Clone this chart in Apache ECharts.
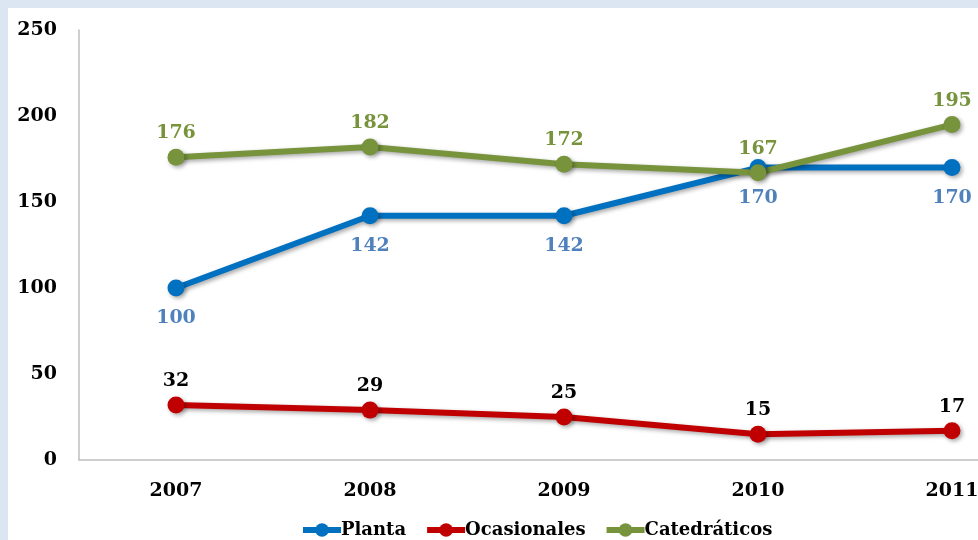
<!DOCTYPE html>
<html>
<head>
<meta charset="utf-8">
<script src="https://cdn.jsdelivr.net/npm/echarts@6/dist/echarts.min.js"></script>
<style>
    html, body { margin: 0; padding: 0; background: #dce6f2; width: 978px; height: 540px; overflow: hidden; }
    #chart { position: absolute; left: 8px; top: 8px; width: 1041px; height: 532px; background: #fff; }
</style>
</head>
<body>
<div id="chart"></div>
<script>
    // datos
    let years = ['2007', '2008', '2009', '2010', '2011'];
    let planta = [100, 142, 142, 170, 170];
    let ocasionales = [32, 29, 25, 15, 17];
    let catedraticos = [176, 182, 172, 167, 195];

    let font = 'DejaVu Serif';
    let shadow = { shadowColor: 'rgba(0,0,0,0.35)', shadowBlur: 4, shadowOffsetX: 2, shadowOffsetY: 2 };

    function serie(name, data, color, labelColor, pos) {
        return {
            name: name,
            type: 'line',
            data: data,
            symbol: 'circle',
            symbolSize: 17,
            lineStyle: Object.assign({ width: 6, color: color }, shadow),
            itemStyle: Object.assign({ color: color }, shadow),
            label: {
                show: true,
                position: pos,
                distance: pos == 'top' ? 6 : 12,
                color: labelColor,
                fontFamily: font,
                fontWeight: 'bold',
                fontSize: 19
            },
            animation: false
        };
    }

    let chart = echarts.init(document.getElementById('chart'));
    chart.setOption({
        textStyle: { fontFamily: font },
        grid: { left: 71, top: 22, right: 0, bottom: 80, containLabel: false },
        legend: {
            left: 287,
            bottom: -4,
            itemWidth: 38,
            itemHeight: 17,
            itemGap: 18,
            lineStyle: { width: 6 },
            itemStyle: { shadowBlur: 0, shadowOffsetX: 0, shadowOffsetY: 0 },
            textStyle: { color: '#000', fontFamily: font, fontWeight: 'bold', fontSize: 18, padding: [0, 0, 0, -5] },
            data: ['Planta', 'Ocasionales', 'Catedráticos']
        },
        xAxis: {
            type: 'category',
            data: years,
            boundaryGap: true,
            axisLine: { lineStyle: { color: '#bfbfbf', width: 1.5 } },
            axisTick: { show: false },
            axisLabel: { color: '#000', fontFamily: font, fontWeight: 'bold', fontSize: 19, margin: 22 }
        },
        yAxis: {
            type: 'value',
            min: 0,
            max: 250,
            interval: 50,
            axisLine: { show: true, lineStyle: { color: '#bfbfbf', width: 1.5 } },
            axisTick: { show: false },
            splitLine: { show: false },
            axisLabel: { color: '#000', fontFamily: font, fontWeight: 'bold', fontSize: 19, margin: 22 }
        },
        series: [
            serie('Planta', planta, '#0070c0', '#4f81bd', 'bottom'),
            serie('Ocasionales', ocasionales, '#c00000', '#000', 'top'),
            serie('Catedráticos', catedraticos, '#77933c', '#77933c', 'top')
        ]
    });
</script>
</body>
</html>
